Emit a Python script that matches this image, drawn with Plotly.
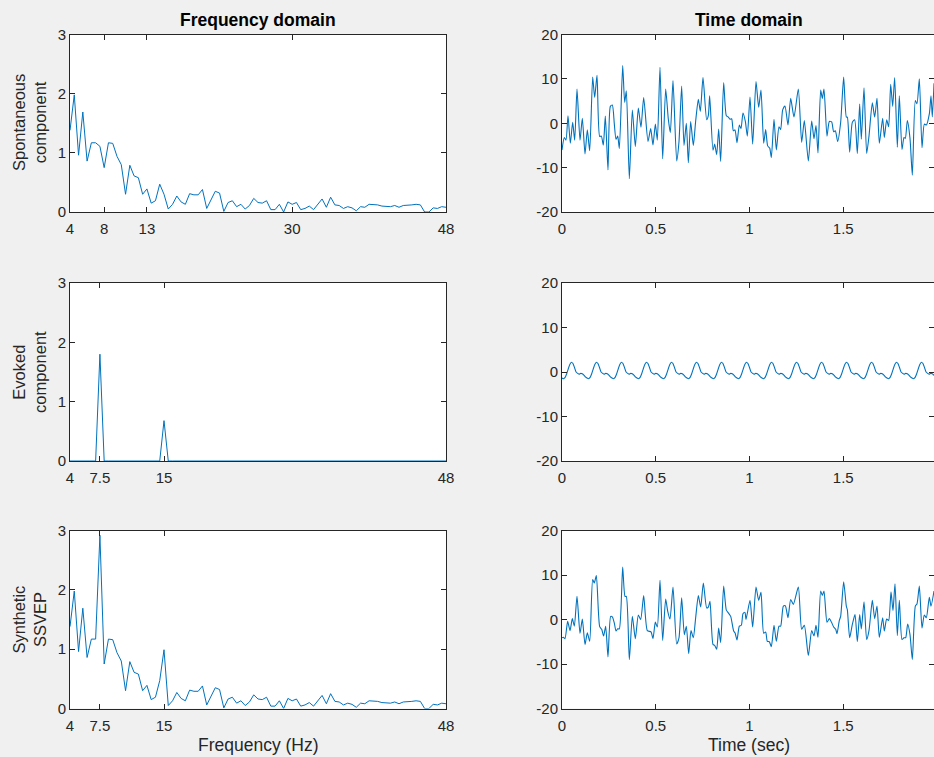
import numpy as np
import plotly.graph_objects as go

# ---------------- data ----------------
FREQ = np.arange(4, 48.5, 0.5)  # 0.5 Hz frequency grid, 4..48 Hz

SPONT_SPEC = [1.38, 1.98, 0.96, 1.69, 0.86, 1.17, 1.17, 1.11, 0.75, 1.17,
              1.16, 0.94, 0.80, 0.30, 0.79, 0.61, 0.58, 0.30, 0.39, 0.15,
              0.19, 0.47, 0.30, 0.05, 0.13, 0.27, 0.17, 0.13, 0.31, 0.29,
              0.29, 0.38, 0.06, 0.20, 0.35, 0.32, 0.01, 0.16, 0.19, 0.09,
              0.13, 0.05, 0.11, 0.23, 0.16, 0.15, 0.19, 0.04, 0.04, 0.13,
              0.00, 0.17, 0.13, 0.16, 0.04, 0.06, 0.10, 0.04, 0.13, 0.22,
              0.08, 0.25, 0.12, 0.11, 0.06, 0.09, 0.07, 0.02, 0.09, 0.08,
              0.13, 0.13, 0.12, 0.10, 0.10, 0.09, 0.11, 0.08, 0.11, 0.11,
              0.12, 0.13, 0.12, 0.00, 0.00, 0.07, 0.06, 0.09, 0.08]

EVOKED_SPEC = [0.00, 0.00, 0.00, 0.00, 0.00, 0.00, 0.00, 1.80, 0.00, 0.00,
               0.00, 0.00, 0.00, 0.00, 0.00, 0.00, 0.00, 0.00, 0.00, 0.00,
               0.00, 0.00, 0.68, 0.00, 0.00, 0.00, 0.00, 0.00, 0.00, 0.00,
               0.00, 0.00, 0.00, 0.00, 0.00, 0.00, 0.00, 0.00, 0.00, 0.00,
               0.00, 0.00, 0.00, 0.00, 0.00, 0.00, 0.00, 0.00, 0.00, 0.00,
               0.00, 0.00, 0.00, 0.00, 0.00, 0.00, 0.00, 0.00, 0.00, 0.00,
               0.00, 0.00, 0.00, 0.00, 0.00, 0.00, 0.00, 0.00, 0.00, 0.00,
               0.00, 0.00, 0.00, 0.00, 0.00, 0.00, 0.00, 0.00, 0.00, 0.00,
               0.00, 0.00, 0.00, 0.00, 0.00, 0.00, 0.00, 0.00, 0.00]

SYNTH_SPEC = [1.38, 1.98, 0.96, 1.69, 0.86, 1.17, 1.17, 2.92, 0.75, 1.17,
              1.16, 0.94, 0.80, 0.30, 0.79, 0.61, 0.58, 0.30, 0.39, 0.15,
              0.19, 0.47, 0.99, 0.05, 0.13, 0.27, 0.17, 0.13, 0.31, 0.29,
              0.29, 0.38, 0.06, 0.20, 0.35, 0.32, 0.01, 0.16, 0.19, 0.09,
              0.13, 0.05, 0.11, 0.23, 0.16, 0.15, 0.19, 0.04, 0.04, 0.13,
              0.00, 0.17, 0.13, 0.16, 0.04, 0.06, 0.10, 0.04, 0.13, 0.22,
              0.08, 0.25, 0.12, 0.11, 0.06, 0.09, 0.07, 0.02, 0.09, 0.08,
              0.13, 0.13, 0.12, 0.10, 0.10, 0.09, 0.11, 0.08, 0.11, 0.11,
              0.12, 0.13, 0.12, 0.00, 0.00, 0.07, 0.06, 0.09, 0.08]

SPONT_T = [0, 0.0124, 0.0213, 0.032, 0.0444, 0.0569, 0.0676, 0.08, 0.096, 0.1084,
           0.1227, 0.1351, 0.1476, 0.1636, 0.1742, 0.1867, 0.2009, 0.2098, 0.2204, 0.2311,
           0.2453, 0.2578, 0.2684, 0.2791, 0.288, 0.2969, 0.3058, 0.3236, 0.3342, 0.3431,
           0.3591, 0.3751, 0.3911, 0.4071, 0.4213, 0.4356, 0.4587, 0.4729, 0.4853, 0.4978,
           0.5084, 0.5227, 0.5369, 0.5529, 0.5671, 0.5778, 0.592, 0.6116, 0.624, 0.6382,
           0.6507, 0.6631, 0.6738, 0.6862, 0.7004, 0.7129, 0.7271, 0.7378, 0.752, 0.7716,
           0.7804, 0.7876, 0.8053, 0.8142, 0.8249, 0.8356, 0.8462, 0.8622, 0.8764, 0.8871,
           0.896, 0.9049, 0.9138, 0.9227, 0.9333, 0.9458, 0.9547, 0.9653,
           0.9778, 0.9884, 1.0027, 1.0169, 1.0347, 1.0489, 1.0613, 1.0756, 1.0862, 1.0969,
           1.1076, 1.1164, 1.1307, 1.1431, 1.1573, 1.1662, 1.1769, 1.1893, 1.2053, 1.2196,
           1.2373, 1.2604, 1.2782, 1.2924, 1.3138, 1.3316, 1.344, 1.3547, 1.3653, 1.3796,
           1.3884, 1.3973, 1.4133, 1.4258, 1.4382, 1.4489, 1.4578, 1.4702, 1.4862, 1.5022,
           1.5164, 1.5218, 1.5342, 1.5484, 1.5609, 1.5751, 1.5876, 1.5964, 1.6107, 1.6249,
           1.6373, 1.6551, 1.6676, 1.68, 1.6924, 1.7102, 1.7191, 1.7316, 1.7422, 1.7529,
           1.7636, 1.7742, 1.7884, 1.7991, 1.8133, 1.824, 1.8311, 1.8418, 1.856, 1.8684,
           1.8844, 1.8933, 1.9058, 1.92, 1.9324, 1.9431, 1.9591, 1.968, 1.9751, 1.984]
SPONT_V = [-6.0, -3.2, -3.8, 1.7, -4.5, 0.2, -3.8, 7.7, -3.8, 1.1,
           -6.9, -1.5, -6.2, 10.4, 5.8, 10.8, -3.0, -2.9, -4.9, 1.6,
           -10.5, 3.8, 4.1, -0.2, -3.6, -2.9, -5.7, 13.0, 4.7, 7.3,
           -12.5, 3.0, -5.2, 3.4, -0.9, 5.8, -4.1, -1.2, -4.9, -0.2,
           -3.8, 12.6, -8.0, 7.7, 0.9, -2.1, 9.6, -8.5, -4.1, 8.4,
           -5.0, 0.0, -8.9, 0.4, -5.0, 0.5, 5.4, 2.7, 10.3, 0.8,
           1.7, 6.2, -6.1, -4.7, -7.1, -1.3, -8.6, 9.2, 1.7, 1.4,
           0.9, 1.0, -1.7, -1.5, -4.4, -0.4, -1.2, 2.3,
           0.4, -2.9, 5.9, -4.7, 9.4, 3.6, 7.5, -4.5, -1.4, -5.1,
           -5.6, -7.7, 0.9, -6.0, -0.8, -1.4, 3.0, 3.9, -0.4, 5.6,
           1.4, 7.7, -4.3, 0.6, -8.5, 0.5, -3.5, -0.5, -6.7, 7.5,
           5.6, 7.7, -2.9, 0.4, 0.3, -1.9, -1.7, -4.1, 0.2, 10.4,
           1.4, 1.4, -6.5, 0.2, 0.8, -6.8, 4.3, -3.6, 8.0, -6.8,
           -2.9, 4.6, 1.4, 5.6, -4.5, 1.1, -3.2, 0.8, -0.8, 8.8,
           3.8, 10.3, -5.4, 6.2, -5.9, -3.2, -3.4, 0.6, -3.4, -11.7,
           5.1, 4.4, 10.0, -5.5, -0.2, -0.4, 2.1, 6.2, 1.4, 9.0]

EVOKED_T = np.linspace(0, 2, 241)  # sampling grid, 1/120 s
EVOKED_V = [
    -1.35, -1.5, -1.2, -0.4, 0.7, 1.7, 2.2, 1.9, 1.0, 0.0, -0.3, -0.5, -0.3, -0.4, -0.7, -1.1,
    -1.35, -1.5, -1.2, -0.4, 0.7, 1.7, 2.2, 1.9, 1.0, 0.0, -0.3, -0.5, -0.3, -0.4, -0.7, -1.1,
    -1.35, -1.5, -1.2, -0.4, 0.7, 1.7, 2.2, 1.9, 1.0, 0.0, -0.3, -0.5, -0.3, -0.4, -0.7, -1.1,
    -1.35, -1.5, -1.2, -0.4, 0.7, 1.7, 2.2, 1.9, 1.0, 0.0, -0.3, -0.5, -0.3, -0.4, -0.7, -1.1,
    -1.35, -1.5, -1.2, -0.4, 0.7, 1.7, 2.2, 1.9, 1.0, 0.0, -0.3, -0.5, -0.3, -0.4, -0.7, -1.1,
    -1.35, -1.5, -1.2, -0.4, 0.7, 1.7, 2.2, 1.9, 1.0, 0.0, -0.3, -0.5, -0.3, -0.4, -0.7, -1.1,
    -1.35, -1.5, -1.2, -0.4, 0.7, 1.7, 2.2, 1.9, 1.0, 0.0, -0.3, -0.5, -0.3, -0.4, -0.7, -1.1,
    -1.35, -1.5, -1.2, -0.4, 0.7, 1.7, 2.2, 1.9, 1.0, 0.0, -0.3, -0.5, -0.3, -0.4, -0.7, -1.1,
    -1.35, -1.5, -1.2, -0.4, 0.7, 1.7, 2.2, 1.9, 1.0, 0.0, -0.3, -0.5, -0.3, -0.4, -0.7, -1.1,
    -1.35, -1.5, -1.2, -0.4, 0.7, 1.7, 2.2, 1.9, 1.0, 0.0, -0.3, -0.5, -0.3, -0.4, -0.7, -1.1,
    -1.35, -1.5, -1.2, -0.4, 0.7, 1.7, 2.2, 1.9, 1.0, 0.0, -0.3, -0.5, -0.3, -0.4, -0.7, -1.1,
    -1.35, -1.5, -1.2, -0.4, 0.7, 1.7, 2.2, 1.9, 1.0, 0.0, -0.3, -0.5, -0.3, -0.4, -0.7, -1.1,
    -1.35, -1.5, -1.2, -0.4, 0.7, 1.7, 2.2, 1.9, 1.0, 0.0, -0.3, -0.5, -0.3, -0.4, -0.7, -1.1,
    -1.35, -1.5, -1.2, -0.4, 0.7, 1.7, 2.2, 1.9, 1.0, 0.0, -0.3, -0.5, -0.3, -0.4, -0.7, -1.1,
    -1.35, -1.5, -1.2, -0.4, 0.7, 1.7, 2.2, 1.9, 1.0, 0.0, -0.3, -0.5, -0.3, -0.4, -0.7, -1.1,
    -1.35]

SYNTH_T = [0, 0.0071, 0.016, 0.0302, 0.0427, 0.0551, 0.0658, 0.08, 0.096, 0.1084,
           0.1227, 0.1351, 0.1476, 0.1636, 0.1724, 0.1831, 0.2009, 0.2116, 0.2222, 0.2329,
           0.2453, 0.2596, 0.2684, 0.2791, 0.288, 0.2969, 0.3058, 0.3236, 0.336, 0.3431,
           0.3591, 0.3751, 0.3911, 0.4071, 0.4196, 0.4356, 0.4551, 0.4747, 0.4853, 0.4978,
           0.5084, 0.5227, 0.5369, 0.5529, 0.5636, 0.576, 0.592, 0.6116, 0.624, 0.6382,
           0.6524, 0.6631, 0.6756, 0.688, 0.7004, 0.7129, 0.7271, 0.7396, 0.7538, 0.7716,
           0.7804, 0.7893, 0.8053, 0.8142, 0.8249, 0.8356, 0.8462, 0.8622, 0.8764, 0.8871,
           0.8996, 0.9156, 0.9227, 0.9333, 0.9458, 0.9564, 0.9653, 0.976,
           0.9813, 1.0027, 1.0169, 1.0347, 1.0489, 1.0613, 1.0756, 1.0862, 1.0951, 1.1058,
           1.1164, 1.1307, 1.1431, 1.1573, 1.1662, 1.1804, 1.1911, 1.2053, 1.2196, 1.2338,
           1.2604, 1.2782, 1.2924, 1.3138, 1.3316, 1.344, 1.3547, 1.3653, 1.3796, 1.3884,
           1.3973, 1.4133, 1.4258, 1.4382, 1.4489, 1.4596, 1.4667, 1.4791, 1.4862, 1.5022,
           1.5164, 1.5218, 1.5342, 1.5484, 1.5627, 1.5751, 1.5876, 1.5964, 1.6107, 1.6249,
           1.6373, 1.6551, 1.6676, 1.68, 1.6924, 1.7102, 1.7191, 1.7316, 1.7422, 1.7547,
           1.7653, 1.776, 1.7884, 1.7991, 1.8133, 1.824, 1.8329, 1.8436, 1.856, 1.8684,
           1.8844, 1.8933, 1.9058, 1.92, 1.9324, 1.9431, 1.9591, 1.968, 1.984]
SYNTH_V = [-4.1, -4.0, -4.3, -0.4, -2.5, 0.2, -1.5, 5.2, -3.1, 0.1,
           -5.6, -3.0, -4.9, 9.0, 8.2, 9.9, -1.6, -2.2, -3.7, -1.5,
           -8.4, 0.7, 0.6, -0.8, -2.6, -2.1, -2.1, 11.8, 5.2, 5.2,
           -9.0, 0.7, -4.3, 1.0, 0.0, 5.4, -2.5, -2.8, -4.3, -0.6,
           -1.7, 8.8, -4.7, 4.6, 1.9, 0.1, 7.3, -5.5, -4.1, 4.9,
           -3.4, -1.5, -7.7, -2.5, -4.1, 0.4, 5.4, 2.8, 8.2, 2.6,
           2.8, 4.1, -5.6, -5.8, -6.7, -1.9, -5.2, 7.5, 2.1, 1.5,
           0.7, -2.6, -3.0, -4.6, -1.5, -1.3, 1.3, 1.6,
           0.0, 4.3, -1.7, 7.3, 4.3, 6.1, -3.1, -2.8, -4.9, -5.0,
           -6.1, -1.3, -4.9, -1.5, -1.5, 3.0, 3.1, 0.4, 4.5, 3.4,
           7.3, -2.2, -1.3, -8.1, -2.5, -3.7, -1.3, -4.0, 6.4, 5.4,
           6.4, -0.6, 0.2, -0.7, -1.7, -2.2, -3.2, -0.2, 0.7, 8.5,
           3.0, 2.2, -4.1, -1.1, 1.1, -5.0, 1.1, -2.1, 4.0, -4.5,
           -2.5, 4.3, 0.2, 3.0, -4.0, 0.4, -2.6, 0.1, -0.2, 6.2,
           2.0, 8.0, -3.6, 4.3, -4.5, -4.1, -4.1, -1.0, -3.4, -9.0,
           3.0, 3.5, 7.5, -1.9, 1.0, 0.4, 5.0, 3.0, 6.4]

FREQ_TICKS_ROW1 = [4, 8, 13, 30, 48]
FREQ_TICKS_ROW23 = [4, 7.5, 15, 48]
SPEC_YTICKS = [0, 1, 2, 3]
TIME_XTICKS = [0, 0.5, 1, 1.5, 2]
TIME_YTICKS = [-20, -10, 0, 10, 20]
ROW_LABELS = ["Spontaneous<br>component", "Evoked<br>component", "Synthetic<br>SSVEP"]

# ---------------- layout ----------------
W, H = 934, 757
LINE = '#0072BD'
AX = '#262626'
FONT = 'Liberation Sans, Arial, Helvetica, sans-serif'

def px_x(a, b):
    return [a / W, b / W]

def px_y(top, bottom):
    return [1 - bottom / H, 1 - top / H]

LEFT = px_x(70, 446)
RIGHT = px_x(562, 934)
ROWS = [px_y(34.5, 212), px_y(283, 461), px_y(530.5, 708.5)]

fig = go.Figure()

spectra = [SPONT_SPEC, EVOKED_SPEC, SYNTH_SPEC]
times = [(SPONT_T, SPONT_V), (EVOKED_T, EVOKED_V), (SYNTH_T, SYNTH_V)]

base = dict(showline=True, linecolor=AX, linewidth=1, mirror='ticks', ticks='inside',
            ticklen=5, tickwidth=1, tickcolor=AX, showgrid=False, zeroline=False,
            tickfont=dict(family=FONT, size=15, color=AX), fixedrange=True,
            automargin=False)

layout = {}
for r in range(3):
    il = 2 * r + 1
    ir = 2 * r + 2
    fig.add_trace(go.Scatter(x=FREQ, y=spectra[r], mode='lines',
                             line=dict(color=LINE, width=1),
                             xaxis=f'x{il}', yaxis=f'y{il}', showlegend=False))
    fig.add_trace(go.Scatter(x=times[r][0], y=times[r][1], mode='lines',
                             line=dict(color=LINE, width=1.1, shape='spline', smoothing=0.6),
                             xaxis=f'x{ir}', yaxis=f'y{ir}', showlegend=False))
    fticks = FREQ_TICKS_ROW1 if r == 0 else FREQ_TICKS_ROW23
    layout[f'xaxis{il}'] = dict(base, domain=LEFT, range=[4, 48], anchor=f'y{il}',
                                tickvals=fticks, ticktext=[str(v) for v in fticks],
                                ticklabelstandoff=3)
    layout[f'yaxis{il}'] = dict(base, domain=ROWS[r], range=[0, 3], anchor=f'x{il}',
                                tickvals=SPEC_YTICKS, ticktext=[str(v) for v in SPEC_YTICKS])
    layout[f'xaxis{ir}'] = dict(base, domain=RIGHT, range=[0, (934 - 562) / 187.5],
                                anchor=f'y{ir}', tickvals=TIME_XTICKS,
                                ticktext=[str(v) for v in TIME_XTICKS],
                                ticklabelstandoff=3)
    layout[f'yaxis{ir}'] = dict(base, domain=ROWS[r], range=[-20, 20], anchor=f'x{ir}',
                                tickvals=TIME_YTICKS, ticktext=[str(v) for v in TIME_YTICKS])

ann = []
ann.append(dict(text='<b>Frequency domain</b>', x=258 / W, y=1 - 20 / H, xref='paper', yref='paper',
                showarrow=False, xanchor='center', yanchor='middle',
                font=dict(family=FONT, size=17.5, color='#000000')))
ann.append(dict(text='<b>Time domain</b>', x=749 / W, y=1 - 20 / H, xref='paper', yref='paper',
                showarrow=False, xanchor='center', yanchor='middle',
                font=dict(family=FONT, size=17.5, color='#000000')))
ann.append(dict(text='Frequency (Hz)', x=258 / W, y=1 - 745 / H, xref='paper', yref='paper',
                showarrow=False, xanchor='center', yanchor='middle',
                font=dict(family=FONT, size=17.5, color=AX)))
ann.append(dict(text='Time (sec)', x=749 / W, y=1 - 745 / H, xref='paper', yref='paper',
                showarrow=False, xanchor='center', yanchor='middle',
                font=dict(family=FONT, size=17.5, color=AX)))
row_centers = [123, 372, 619.5]
for r in range(3):
    ann.append(dict(text=ROW_LABELS[r], x=29 / W, y=1 - row_centers[r] / H,
                    xref='paper', yref='paper', showarrow=False, textangle=-90,
                    xanchor='center', yanchor='middle',
                    font=dict(family=FONT, size=16.5, color=AX)))

fig.update_layout(width=W, height=H,
                  margin=dict(l=0, r=0, t=0, b=0, pad=0, autoexpand=False),
                  paper_bgcolor='#f0f0f0', plot_bgcolor='#ffffff',
                  annotations=ann, **layout)

fig.write_html("out.html")
